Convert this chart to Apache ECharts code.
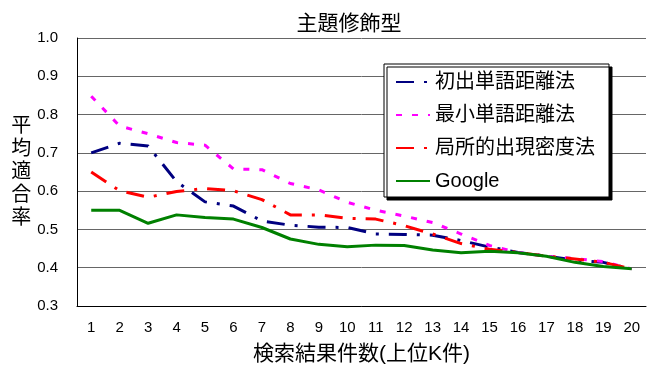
<!DOCTYPE html>
<html>
<head>
<meta charset="utf-8">
<script src="https://cdn.jsdelivr.net/npm/echarts@6/dist/echarts.min.js"></script>
<style>html,body{margin:0;padding:0;background:#fff}#c{width:648px;height:370px}</style>
</head>
<body>
<div id="c"></div>
<script>
var categories = ['1','2','3','4','5','6','7','8','9','10','11','12','13','14','15','16','17','18','19','20'];
var seriesNames = ['初出単語距離法','最小単語距離法','局所的出現密度法','Google'];
var firstDist = [0.700,0.725,0.718,0.625,0.572,0.561,0.522,0.511,0.506,0.505,0.488,0.487,0.485,0.471,0.454,0.440,0.430,0.420,0.414,0.397];
var minDist   = [0.848,0.770,0.750,0.727,0.720,0.658,0.656,0.620,0.603,0.571,0.550,0.535,0.518,0.488,0.458,0.440,0.430,0.424,0.416,0.397];
var localDens = [0.650,0.601,0.584,0.599,0.607,0.601,0.578,0.538,0.538,0.529,0.527,0.510,0.488,0.463,0.448,0.440,0.430,0.423,0.414,0.397];
var google    = [0.550,0.550,0.516,0.538,0.531,0.527,0.505,0.475,0.461,0.455,0.459,0.458,0.446,0.439,0.443,0.439,0.430,0.414,0.403,0.397];
var yTicks = [0.3,0.4,0.5,0.6,0.7,0.8,0.9,1.0];

var cjk = "'Liberation Sans', 'Noto Sans CJK JP', sans-serif";
var chart = echarts.init(document.getElementById('c'));
function ser(name, data, color, dash, width) {
  return {
    name: name, type: 'line', data: data, symbol: 'none', smooth: false,
    lineStyle: { color: color, width: width, type: dash },
    itemStyle: { color: color },
    animation: false
  };
}
chart.setOption({
  animation: false,
  title: {
    text: '主題修飾型', left: 344, top: 9, textAlign: 'center',
    textStyle: { fontFamily: cjk, fontSize: 21, fontWeight: 'normal', color: '#000' }
  },
  grid: { left: 77, right: 2, top: 38, bottom: 58, containLabel: false },
  legend: {
    orient: 'vertical', left: 384, top: 64,
    backgroundColor: '#fff', borderColor: '#000', borderWidth: 1,
    shadowColor: '#000', shadowBlur: 0, shadowOffsetX: 3, shadowOffsetY: 3,
    padding: [8, 14, 6, 11],
    itemWidth: 34, itemHeight: 14, itemGap: 13,
    itemStyle: { opacity: 0 },
    textStyle: { fontFamily: cjk, fontSize: 20, color: '#000', lineHeight: 20 },
    data: seriesNames
  },
  xAxis: {
    type: 'category', data: categories, boundaryGap: true,
    name: '検索結果件数(上位K件)', nameLocation: 'middle', nameGap: 38,
    nameTextStyle: { fontFamily: cjk, fontSize: 21, color: '#000' },
    axisLine: { lineStyle: { color: '#000', width: 1 } },
    axisTick: { inside: true, length: 6, alignWithLabel: false, lineStyle: { color: '#000' } },
    axisLabel: { fontFamily: "'Liberation Sans', sans-serif", fontSize: 15, color: '#000', margin: 14, interval: 0 },
    splitLine: { show: false }
  },
  yAxis: {
    type: 'value', min: 0.3, max: 1.0, interval: 0.1,
    name: '平\n均\n適\n合\n率', nameLocation: 'middle', nameRotate: 0, nameGap: 45,
    nameTextStyle: { fontFamily: cjk, fontSize: 20, color: '#000', lineHeight: 23, padding: [12, 0, 0, 0] },
    axisLine: { show: true, lineStyle: { color: '#000', width: 1 } },
    axisTick: { show: false },
    axisLabel: { fontFamily: "'Liberation Sans', sans-serif", fontSize: 15, color: '#000', margin: 19,
      formatter: function (v) { return v.toFixed(1); } },
    splitLine: { show: true, lineStyle: { color: '#666', width: 1 } }
  },
  series: [
    ser(seriesNames[0], firstDist, '#000080', [18, 10, 3, 10], 3),
    ser(seriesNames[1], minDist, '#ff00ff', [6, 10], 3),
    ser(seriesNames[2], localDens, '#ff0000', [18, 10, 3, 10], 3),
    ser(seriesNames[3], google, '#008000', 'solid', 3)
  ]
});
</script>
</body>
</html>
